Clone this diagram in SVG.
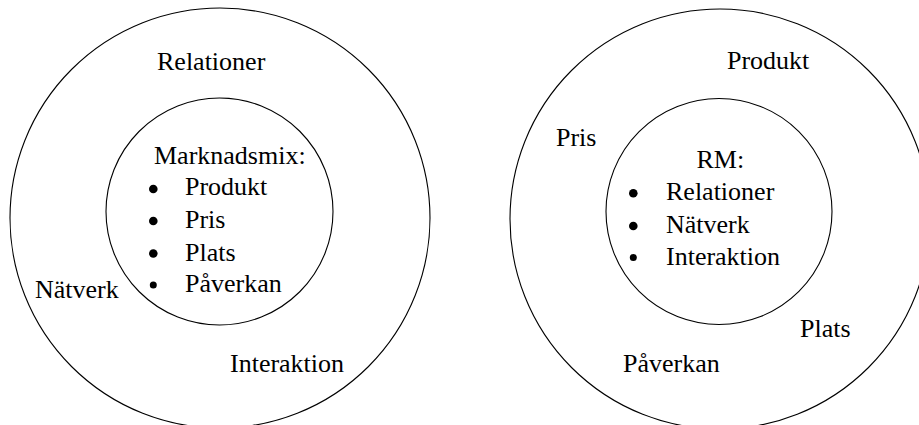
<svg xmlns="http://www.w3.org/2000/svg" width="919" height="425" viewBox="0 0 919 425">
<style>
.c{fill:none;stroke:#000;stroke-width:1.1}
.t{font-family:"Liberation Serif","Times New Roman",serif;font-size:26px;fill:#000}
.b{fill:#000}
</style>
<rect width="919" height="425" fill="#fff"/>
<g id="left-outer">
<circle class="c" cx="220" cy="218" r="210"/>
<text class="t" x="157" y="70">Relationer</text>
<text class="t" x="35" y="298">Nätverk</text>
<text class="t" x="230" y="372">Interaktion</text>
</g>
<g id="left-inner">
<circle class="c" cx="219.5" cy="211.5" r="113.5"/>
<text class="t" x="154" y="164">Marknadsmix:</text>
<circle class="b" cx="153.3" cy="189" r="4.3"/>
<circle class="b" cx="153.3" cy="221" r="4.3"/>
<circle class="b" cx="153.3" cy="253.5" r="4.3"/>
<circle class="b" cx="153.3" cy="285" r="3.5"/>
<text class="t" x="185" y="195">Produkt</text>
<text class="t" x="185" y="228">Pris</text>
<text class="t" x="185" y="261">Plats</text>
<text class="t" x="185" y="292">Påverkan</text>
</g>
<g id="right-outer">
<circle class="c" cx="720" cy="219" r="210"/>
<text class="t" x="727" y="69">Produkt</text>
<text class="t" x="556" y="146">Pris</text>
<text class="t" x="800" y="337">Plats</text>
<text class="t" x="623" y="372">Påverkan</text>
</g>
<g id="right-inner">
<circle class="c" cx="719" cy="211.5" r="113"/>
<text class="t" x="696.5" y="168">RM:</text>
<circle class="b" cx="633.3" cy="193.3" r="4.3"/>
<circle class="b" cx="633.3" cy="226" r="4.3"/>
<circle class="b" cx="633.3" cy="257.5" r="3.5"/>
<text class="t" x="666" y="200">Relationer</text>
<text class="t" x="666" y="233">Nätverk</text>
<text class="t" x="666" y="265">Interaktion</text>
</g>
<g id="connectors"/>
</svg>
